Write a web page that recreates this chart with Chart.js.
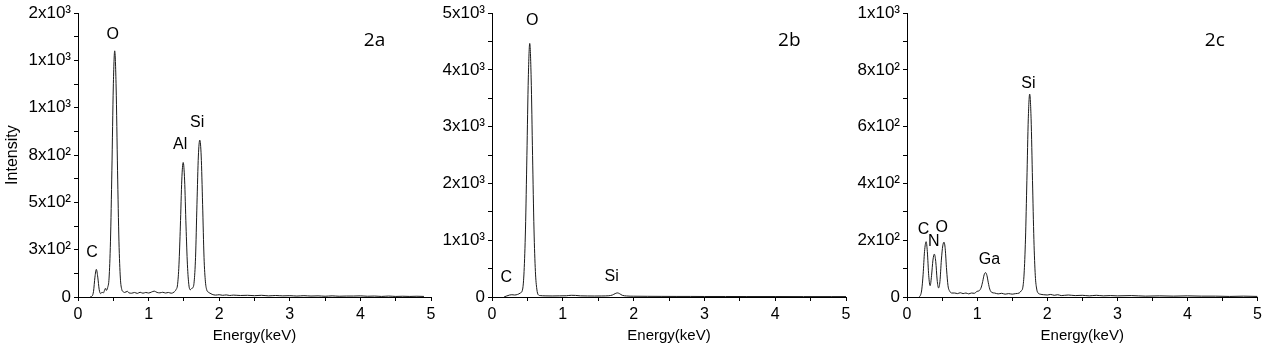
<!DOCTYPE html>
<html>
<head>
<meta charset="utf-8">
<script src="https://cdn.jsdelivr.net/npm/chart.js@4.4.1/dist/chart.umd.min.js"></script>
<style>
  html, body { margin: 0; padding: 0; background: #fff; }
  .panel { position: absolute; top: 0; }
</style>
</head>
<body>
<canvas id="chartA" class="panel" width="440" height="346" style="left:0px"></canvas>
<canvas id="chartB" class="panel" width="440" height="346" style="left:420px"></canvas>
<canvas id="chartC" class="panel" width="426" height="346" style="left:840px"></canvas>
<script>
// ---- EDS spectra (energy in keV, counts) ----
const energyA = [0.17,0.20,0.22,0.24,0.26,0.28,0.30,0.32,0.34,0.36,0.38,0.39,0.40,0.42,0.44,0.46,0.48,0.50,0.52,0.54,0.56,0.58,0.60,0.62,0.64,
  0.66,0.70,0.72,0.76,0.80,0.84,0.88,0.92,0.96,1.00,1.04,1.08,1.12,1.16,1.20,1.24,1.28,1.32,1.36,1.39,
  1.41,1.43,1.45,1.47,1.49,1.51,1.53,1.55,1.57,1.59,1.61,1.625,1.645,1.665,1.685,1.705,1.725,1.745,1.765,1.785,1.805,1.825,1.845,
  1.87,1.90,1.95,2.00,2.05,2.10,2.15,2.20,2.30,2.40,2.50,2.60,2.70,2.80,2.90,3.00,3.10,3.20,3.30,3.40,3.50,3.60,3.70,3.80,3.90,
  4.00,4.10,4.20,4.30,4.40,4.50,4.60,4.70,4.80,4.90,5.00];
const countsA = [0,5,30,105,146,105,40,18,25,22,40,46,35,50,100,295,670,1110,1301,1110,670,295,100,40,28,
  24,30,22,20,24,19,25,20,24,21,26,31,24,22,25,21,24,20,26,40,
  65,170,375,618,711,618,375,170,65,38,45,48,80,210,490,745,829,745,490,210,80,36,
  26,20,14,10,12,9,11,8,10,8,9,7,9,6,8,6,7,5,7,5,6,4,6,4,5,
  5,6,4,5,3,5,3,4,3,4,3];

const energyB = [0.17,0.20,0.25,0.28,0.32,0.36,0.40,0.433,0.453,0.473,0.493,0.513,0.533,0.553,0.573,0.593,0.613,0.633,0.653,
  0.68,0.75,0.85,0.95,1.05,1.12,1.18,1.25,1.35,1.45,1.55,1.65,1.70,1.74,1.77,1.80,1.84,1.90,
  2.00,2.20,2.40,2.60,2.80,3.00,3.30,3.60,4.00,4.40,4.80,5.00];
const countsB = [0,15,35,40,35,45,70,140,450,1197,2493,3860,4467,3860,2493,1197,450,140,40,
  25,20,18,20,22,30,28,20,18,17,18,22,35,60,72,60,30,18,
  14,12,11,10,10,9,9,8,8,7,7,7];

const energyC = [0.17,0.19,0.21,0.23,0.25,0.273,0.29,0.31,0.33,0.35,0.37,0.39,0.41,0.43,0.45,0.47,0.49,0.51,0.528,0.545,0.565,0.585,0.61,0.64,
  0.68,0.72,0.76,0.80,0.84,0.88,0.92,0.96,1.00,1.03,1.06,1.08,1.10,1.12,1.14,1.16,1.18,1.21,1.25,1.30,1.35,1.40,1.45,1.50,1.55,1.60,1.63,
  1.65,1.67,1.69,1.71,1.73,1.75,1.77,1.79,1.81,1.83,1.85,1.87,
  1.90,1.95,2.00,2.05,2.10,2.15,2.20,2.30,2.40,2.50,2.60,2.70,2.80,2.90,3.00,3.20,3.40,3.60,3.80,4.00,4.20,4.40,4.60,4.80,5.00];
const countsC = [0,5,25,80,160,195,160,75,40,75,130,151,125,60,32,55,130,180,193,170,95,40,20,14,
  14,12,15,12,14,11,14,13,20,22,35,55,78,86,76,50,28,16,14,11,13,10,12,10,12,14,22,
  31,81,204,411,628,715,628,411,202,75,28,14,
  10,8,7,9,6,8,5,7,5,6,4,6,4,5,4,5,3,4,3,4,3,3,2,3,2];

// ---- tick labels ----
const energyTicks = ['0','1','2','3','4','5'];
const intensityTicksA = ['0','3x10²','5x10²','8x10²','1x10³','1x10³','2x10³'];
const intensityTicksB = ['0','1x10³','2x10³','3x10³','4x10³','5x10³'];
const intensityTicksC = ['0','2x10²','4x10²','6x10²','8x10²','1x10³'];

// ---- element labels: [text, keV, counts] ----
const peakLabelsA = [['C',0.198,235],['O',0.492,1389],['Al',1.448,803],['Si',1.688,922]];
const peakLabelsB = [['C',0.201,334],['O',0.569,4863],['Si',1.69,357]];
const peakLabelsC = [['C',0.235,239],['N',0.382,194],['O',0.495,246],['Ga',1.176,132],['Si',1.731,752]];

// ---- panel tags: [text, keV, counts] ----
const panelTagA = ['2a',4.2,1357];
const panelTagB = ['2b',4.2,4525];
const panelTagC = ['2c',4.39,905];

Chart.defaults.color = '#000';
Chart.defaults.font.family = "'Liberation Sans', Arial, sans-serif";

const textPlugin = {
  id: 'spectrumText',
  afterDatasetsDraw(chart, args, opts) {
    const ctx = chart.ctx;
    const xs = chart.scales.x, ys = chart.scales.y;
    ctx.save();
    ctx.fillStyle = '#000';
    ctx.textAlign = 'center';
    ctx.textBaseline = 'middle';
    ctx.font = "16px 'Liberation Sans', Arial, sans-serif";
    opts.peaks.forEach(([t, e, c]) => {
      ctx.fillText(t, xs.getPixelForValue(e), ys.getPixelForValue(c));
    });
    ctx.font = "19px 'Open Sans', 'DejaVu Sans', sans-serif";
    const [t, e, c] = opts.tag;
    ctx.fillText(t, xs.getPixelForValue(e), ys.getPixelForValue(c));
    ctx.restore();
  }
};

function makeSpectrum(id, energy, counts, yMax, yStep, yLabelStep, yLabels, peaks, tag, yWidth, padRight, showYTitle) {
  const pts = energy.map((e, i) => ({ x: e, y: counts[i] }));
  return new Chart(document.getElementById(id), {
    type: 'line',
    data: { datasets: [{ data: pts, borderColor: '#1a1a1a', borderWidth: 1, pointRadius: 0,
      cubicInterpolationMode: 'monotone', fill: false }] },
    options: {
      responsive: false,
      devicePixelRatio: 1,
      animation: false,
      layout: { padding: { top: 13, right: padRight, bottom: 0, left: 0 } },
      plugins: { legend: { display: false }, tooltip: { enabled: false }, spectrumText: { peaks, tag } },
      scales: {
        x: {
          type: 'linear', min: 0, max: 5,
          afterFit: (s) => { s.height = 49; },
          border: { display: true, color: '#000', width: 1 },
          grid: { drawOnChartArea: false, drawTicks: true, tickLength: 4, tickColor: '#000' },
          ticks: {
            stepSize: 0.5, autoSkip: false, maxRotation: 0, padding: 4,
            font: { size: 16 },
            callback: (v) => Number.isInteger(v) ? energyTicks[v] : ''
          },
          title: { display: true, text: 'Energy(keV)', font: { size: 15 }, padding: { top: 0, bottom: 1 } }
        },
        y: {
          type: 'linear', min: 0, max: yMax,
          afterFit: (s) => { s.width = yWidth; },
          border: { display: true, color: '#000', width: 1 },
          grid: { drawOnChartArea: false, drawTicks: true, tickLength: 4, tickColor: '#000' },
          ticks: {
            stepSize: yStep, autoSkip: false, padding: 3,
            font: { size: 17 },
            callback: (v) => (v % yLabelStep === 0) ? yLabels[Math.round(v / yLabelStep)] : ''
          },
          title: { display: showYTitle, text: 'Intensity', font: { size: 16 }, padding: { top: 3, bottom: 0 } }
        }
      }
    },
    plugins: [textPlugin]
  });
}

makeSpectrum('chartA', energyA, countsA, 1500, 125, 250, intensityTicksA, peakLabelsA, panelTagA, 78, 9, true);
makeSpectrum('chartB', energyB, countsB, 5000, 500, 1000, intensityTicksB, peakLabelsB, panelTagB, 72, 14, false);
makeSpectrum('chartC', energyC, countsC, 1000, 100, 200, intensityTicksC, peakLabelsC, panelTagC, 67, 6, false);
</script>
</body>
</html>
